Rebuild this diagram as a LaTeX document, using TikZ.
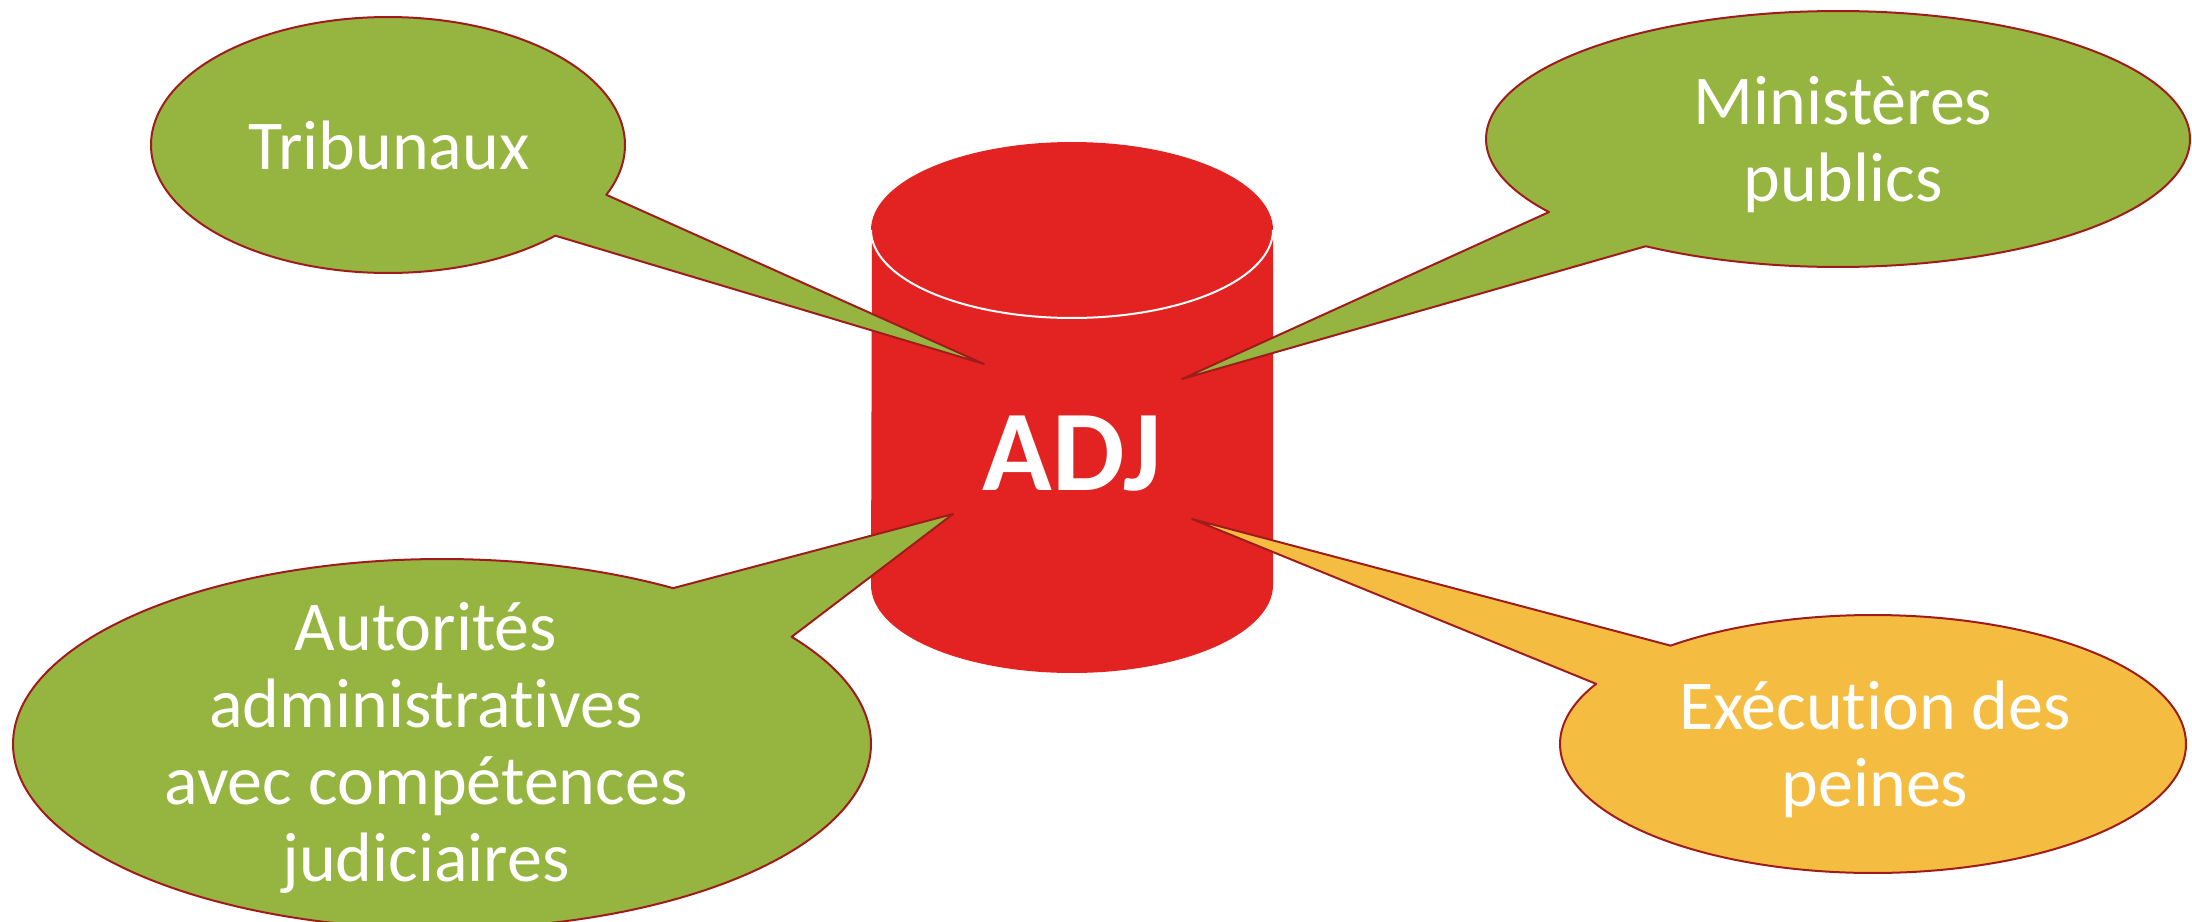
\documentclass[tikz,border=0pt]{standalone}
\usepackage{fontspec}
\setmainfont[Ligatures={NoCommon,NoContextual}]{Carlito}
\definecolor{calgreen}{RGB}{149,181,64}
\definecolor{calorange}{RGB}{244,189,65}
\definecolor{adjred}{RGB}{227,35,34}
\definecolor{caledge}{RGB}{160,28,28}
\tikzset{
  bubble/.style={draw=caledge, line width=2pt, line join=round},
  lbl/.style={text=white, inner sep=0pt, font=\fontsize{70}{77}\selectfont, anchor=base},
  dbtext/.style={text=white, inner sep=0pt, font=\fontsize{115}{120}\selectfont\bfseries, anchor=base},
}
\begin{document}
\begin{tikzpicture}[x=1pt, y=-1pt]
\useasboundingbox (0,0) rectangle (2192,921);
\fill[white] (0,0) rectangle (2192,921);

% cylinder
\fill[adjred] (872,230) -- plot[domain=180:0, samples=120, variable=\t] ({1072+201*cos(\t)}, {585+88*sin(\t)})
  -- (1273,230) -- plot[domain=0:-180, samples=120, variable=\t] ({1072+201*cos(\t)}, {230+88*sin(\t)}) -- cycle;
\draw[white, line width=2pt] plot[domain=180:0, samples=120, variable=\t] ({1072+201*cos(\t)}, {230+88*sin(\t)});
\node[dbtext] (adj) at (1072,490) {ADJ};

% tips
\coordinate (tribtip) at (984,364);
\coordinate (mintip) at (1182,379);
\coordinate (auttip) at (953,514);
\coordinate (exetip) at (1192,519);

% Tribunaux
\draw[bubble, fill=calgreen] (tribtip) -- plot[domain=45.1:382.9, samples=200, variable=\t] ({388+237*cos(\t)}, {145+128*sin(\t)}) -- cycle;
\node[lbl] (trib) at (389,169) {Tribunaux};

% Ministeres publics
\draw[bubble, fill=calgreen] (mintip) -- plot[domain=145.2:483.1, samples=200, variable=\t] ({1838+352*cos(\t)}, {139+128*sin(\t)}) -- cycle;
\node[lbl] (min) at (1843,124) {\begin{tabular}[t]{@{}c@{}}Ministères\\publics\end{tabular}};

% Autorites
\draw[bubble, fill=calgreen] (auttip) -- plot[domain=-35.4:302.6, samples=240, variable=\t] ({442+429*cos(\t)}, {744+185*sin(\t)}) -- cycle;
\node[lbl] (aut) at (426,650) {\begin{tabular}[t]{@{}c@{}}Autorités\\administratives\\avec compétences\\judiciaires\end{tabular}};

% Execution des peines
\draw[bubble, fill=calorange] (exetip) -- plot[domain=229.7:567.8, samples=200, variable=\t] ({1873+313*cos(\t)}, {744+129*sin(\t)}) -- cycle;
\node[lbl] (exe) at (1875,729) {\begin{tabular}[t]{@{}c@{}}Exécution des\\peines\end{tabular}};
\end{tikzpicture}
\end{document}
